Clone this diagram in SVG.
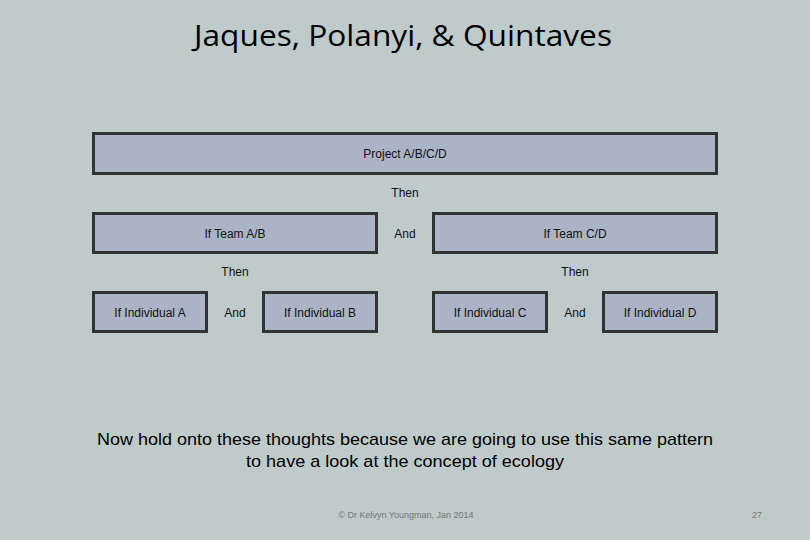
<svg xmlns="http://www.w3.org/2000/svg" width="810" height="540" viewBox="0 0 810 540">
<style>
.b{fill:#abb4c7;stroke:#333;stroke-width:3}
.t{font-family:"Liberation Sans",Arial,sans-serif;font-size:12px;fill:#111;text-anchor:middle}
.m{font-family:"Liberation Sans",Arial,sans-serif;font-size:17px;fill:#000;text-anchor:middle}
.f{font-family:"Liberation Sans",Arial,sans-serif;font-size:9px;fill:#777;text-anchor:middle}
</style>
<rect width="810" height="540" fill="#bfcaca"/>
<text x="403" y="46" font-family="Open Sans,sans-serif" font-size="29" fill="#000" text-anchor="middle" textLength="418" lengthAdjust="spacingAndGlyphs">Jaques, Polanyi, &amp; Quintaves</text>
<g id="project"><rect class="b" x="93.500" y="133.500" width="623" height="40"/><text class="t" x="405" y="158">Project A/B/C/D</text></g>
<g id="teamAB"><rect class="b" x="93.500" y="213.500" width="283" height="39"/><text class="t" x="235" y="238">If Team A/B</text></g>
<g id="teamCD"><rect class="b" x="433.500" y="213.500" width="283" height="39"/><text class="t" x="575" y="238">If Team C/D</text></g>
<g id="indA"><rect class="b" x="93.500" y="292.500" width="113" height="39"/><text class="t" x="150" y="317">If Individual A</text></g>
<g id="indB"><rect class="b" x="263.500" y="292.500" width="113" height="39"/><text class="t" x="320" y="317">If Individual B</text></g>
<g id="indC"><rect class="b" x="433.500" y="292.500" width="113" height="39"/><text class="t" x="490" y="317">If Individual C</text></g>
<g id="indD"><rect class="b" x="603.500" y="292.500" width="113" height="39"/><text class="t" x="660" y="317">If Individual D</text></g>
<g id="connectors">
<text class="t" x="405" y="197">Then</text>
<text class="t" x="405" y="238">And</text>
<text class="t" x="235" y="276">Then</text>
<text class="t" x="575" y="276">Then</text>
<text class="t" x="235" y="317">And</text>
<text class="t" x="575" y="317">And</text>
</g>
<text class="m" x="405" y="445" textLength="616" lengthAdjust="spacingAndGlyphs">Now hold onto these thoughts because we are going to use this same pattern</text>
<text class="m" x="405" y="467" textLength="318" lengthAdjust="spacingAndGlyphs">to have a look at the concept of ecology</text>
<text class="f" x="406" y="518">© Dr Kelvyn Youngman, Jan 2014</text>
<text class="f" x="757" y="518">27</text>
</svg>
